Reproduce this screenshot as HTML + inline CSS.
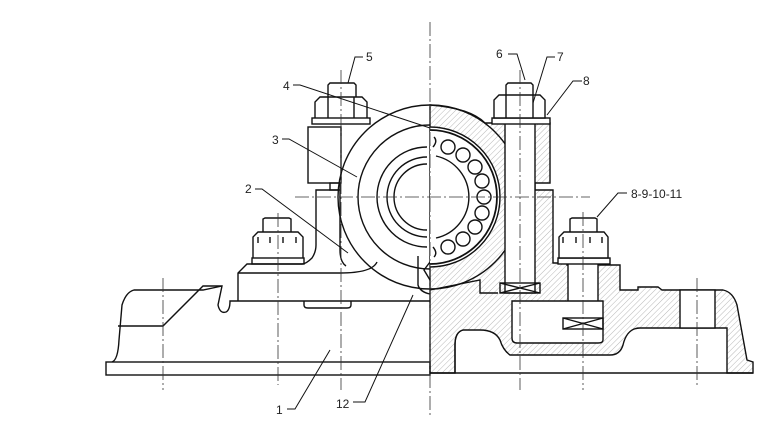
<!DOCTYPE html>
<html><head><meta charset="utf-8"><style>
html,body{margin:0;padding:0;background:#fff;}
svg{display:block;}
text{font-family:"Liberation Sans",sans-serif;font-size:12px;fill:#222;}
</style></head><body>
<svg width="781" height="433" viewBox="0 0 781 433" xmlns="http://www.w3.org/2000/svg">
<defs>
<pattern id="h" patternUnits="userSpaceOnUse" width="4" height="4" patternTransform="rotate(45)">
<line x1="0" y1="0" x2="0" y2="4" stroke="#999" stroke-width="0.7"/>
</pattern>
<clipPath id="rh"><rect x="430" y="0" width="400" height="433"/></clipPath>
<clipPath id="lh"><rect x="0" y="0" width="430" height="433"/></clipPath>
</defs>
<g fill="none" stroke="#111" stroke-width="1.4">
<rect x="106" y="362" width="324" height="13"/>
<path d="M112,362 Q118,360 119,340 L122,305 Q126,292 134,290 L203,290 L222,286 L222,286"/>
<path d="M118,326 L163,326 L203,286 L222,286 L218,305 Q220,314 226,312 Q230,310 230,301 L430,301"/>
<path d="M304,301 L304,305 Q304,308 308,308 L347,308 Q351,308 351,305 L351,301"/>
<path d="M238,301 L238,273 L247,264 L302,264 Q306,264 312,258 Q316,252 316,245 L316,190 L338,190"/>
<path d="M238,273 L340,273"/>
<path d="M340,273 Q372,273 377,262"/>
<path d="M340,190 L340,250 Q340,262 346,266"/>
<rect x="308" y="127" width="33" height="56"/>
<rect x="330" y="183" width="10" height="7"/>
<rect x="312" y="118" width="58" height="6"/>
<path d="M315,118 L315,102 L320,97 L362,97 L367,102 L367,118"/>
<path d="M328,97 L328,118 M354,97 L354,118"/>
<path d="M328,97 L328,85 L330,83 L354,83 L356,85 L356,97"/>
<rect x="252" y="258" width="52" height="6"/>
<path d="M253,258 L253,237 L258,232 L298,232 L303,237 L303,258"/>
<path d="M263,232 L263,219 L265,218 L289,218 L291,219 L291,232"/>
<path d="M258,237 L258,243 M270,237 L270,243 M283,237 L283,243 M296,237 L296,243"/>
<g clip-path="url(#lh)">
<circle cx="430" cy="197" r="92"/>
<circle cx="430" cy="197" r="72"/>
</g>
<path d="M427,147 A50,50 0 1 0 427,247"/>
<path d="M427,157 A40,40 0 1 0 427,237"/>
<path d="M427,164 A33,33 0 1 0 427,230"/>
<path d="M418,256 L418,285 Q420,292 430,294"/>
<path d="M430,262 L424,270 L430,280"/>
<path fill="url(#h)" d="M430,105 Q470,108 485,123 L550,123 L550,183 L535,183 L535,190 L553,190 L553,263 L567,263 L567,265 L620,265 L620,290 L638,290 L638,287 L658,287 L662,290 L723,290 Q733,292 737,305 L747,360 L753,362 L753,373 L727,373 L727,328 L640,328 Q627,328 623,345 Q620,355 610,355 L510,355 Q503,350 500,340 Q495,330 480,330 L463,330 Q455,332 455,345 L455,373 L430,373 Z"/>
<g clip-path="url(#rh)">
<circle cx="430" cy="197" r="70" fill="#fff"/>
<circle cx="430" cy="197" r="92"/>
</g>
<path d="M430,130 A67,67 0 0 1 430,264" stroke-width="1.8"/>
<path d="M433,147 Q438,141 434,137 M433,247 Q438,253 434,257"/>
<path d="M436,156 A42,42 0 0 1 436,238"/>
<rect x="505" y="123" width="30" height="170" fill="#fff"/>
<rect x="568" y="263" width="30" height="67" fill="#fff"/>
<rect x="680" y="290" width="35" height="38" fill="#fff"/>
<path d="M512,301 L603,301 L603,340 Q603,343 598,343 L517,343 Q512,343 512,338 Z" fill="#fff"/>
<rect x="500" y="283" width="40" height="10"/>
<path d="M500,283 L540,293 M500,293 L540,283"/>
<rect x="563" y="318" width="40" height="11"/>
<path d="M563,318 L603,329 M563,329 L603,318"/>
<path d="M455,373 L455,345 Q455,332 463,330"/>
<path d="M430,290 L480,280 L480,293 L498,293"/>
<g fill="#fff">
<circle cx="448" cy="147" r="7"/><circle cx="463" cy="155" r="7"/><circle cx="475" cy="167" r="7"/><circle cx="482" cy="181" r="7"/><circle cx="484" cy="197" r="7"/><circle cx="482" cy="213" r="7"/><circle cx="475" cy="227" r="7"/><circle cx="463" cy="239" r="7"/><circle cx="448" cy="247" r="7"/>
</g>
<rect x="492" y="118" width="58" height="6" fill="#fff"/>
<path d="M494,118 L494,100 L499,95 L540,95 L545,100 L545,118 Z" fill="#fff"/>
<path d="M506,95 L506,118 M533,95 L533,118"/>
<path d="M506,95 L506,85 L508,83 L531,83 L533,85 L533,95"/>
<rect x="558" y="258" width="52" height="6" fill="#fff"/>
<path d="M559,258 L559,237 L564,232 L604,232 L608,237 L608,258 Z" fill="#fff"/>
<path d="M570,232 L570,219 L572,218 L595,218 L597,219 L597,232"/>
<path d="M563,237 L563,243 M576,237 L576,243 M590,237 L590,243 M602,237 L602,243"/>
<path d="M430,373 L753,373"/>
</g>
<g stroke="#333" stroke-width="0.8" stroke-dasharray="14,3,2,3" fill="none">
<line x1="430" y1="22" x2="430" y2="415"/>
<line x1="295" y1="197" x2="590" y2="197"/>
<line x1="163" y1="278" x2="163" y2="390"/>
<line x1="278" y1="213" x2="278" y2="385"/>
<line x1="341" y1="70" x2="341" y2="390"/>
<line x1="520" y1="70" x2="520" y2="390"/>
<line x1="583" y1="212" x2="583" y2="390"/>
<line x1="697" y1="278" x2="697" y2="388"/>
</g>
<g stroke="#111" stroke-width="1" fill="none">
<path d="M363,57 L355,57 L348,83"/>
<path d="M293,85 L300,85 L430,128"/>
<path d="M282,139 L289,139 L357,177"/>
<path d="M255,189 L262,189 L348,253"/>
<path d="M287,409 L295,409 L330,350"/>
<path d="M353,402 L365,402 L413,295"/>
<path d="M508,54 L517,54 L525,80"/>
<path d="M555,57 L547,57 L533,103"/>
<path d="M582,81 L573,81 L547,115"/>
<path d="M627,193 L618,193 L597,217"/>
</g>
<text x="366" y="61">5</text>
<text x="283" y="90">4</text>
<text x="272" y="144">3</text>
<text x="245" y="193">2</text>
<text x="276" y="414">1</text>
<text x="336" y="408">12</text>
<text x="496" y="58">6</text>
<text x="557" y="61">7</text>
<text x="583" y="85">8</text>
<text x="631" y="198">8-9-10-11</text>
</svg>
</body></html>
